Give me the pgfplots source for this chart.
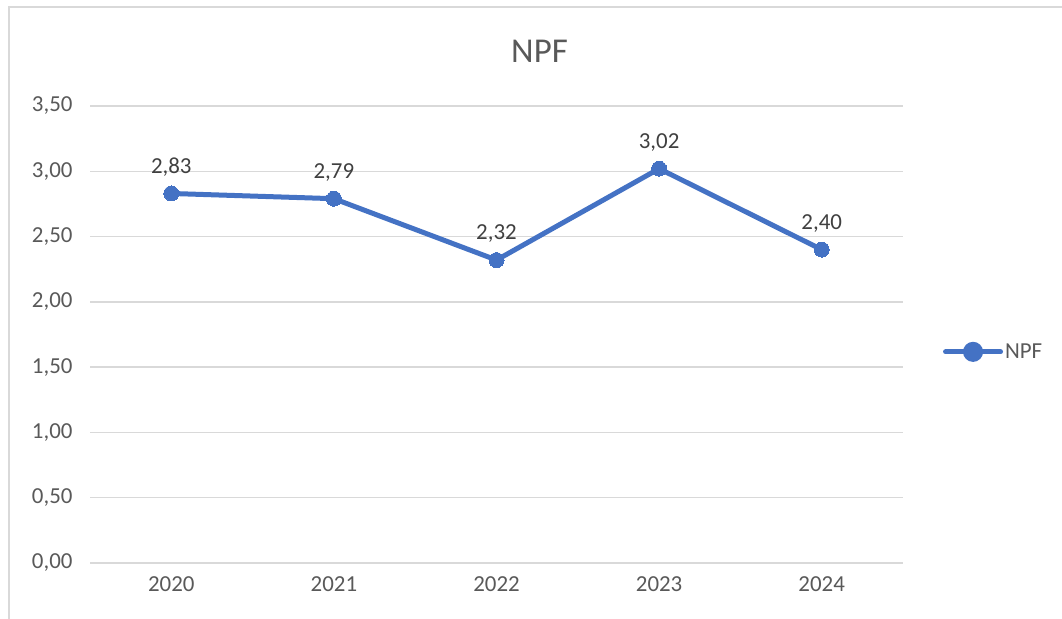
\documentclass[border=0pt]{standalone}
\usepackage{pgfplots}
\pgfplotsset{compat=1.18}
\usepackage{fontspec}
\setmainfont{Carlito}
\definecolor{txt}{HTML}{595959}
\definecolor{lbl}{HTML}{404040}
\definecolor{gridc}{HTML}{D9D9D9}
\definecolor{linec}{HTML}{4472C4}
\begin{document}
\begin{tikzpicture}[x=1bp,y=1bp]
\useasboundingbox (0,0) rectangle (1062,619);
\draw[draw=gridc, line width=1.5bp] (9,0) -- (9,612) -- (1062,612);
\node[text=txt, font=\fontsize{35}{40}\selectfont] at (539.5,568) {NPF};
\begin{axis}[
  at={(90bp,56bp)}, anchor=south west,
  scale only axis, width=813bp, height=457bp,
  xmin=-0.5, xmax=4.5, ymin=0, ymax=3.5,
  xtick={0,1,2,3,4}, xticklabels={2020,2021,2022,2023,2024},
  ytick={0,0.5,1,1.5,2,2.5,3,3.5},
  axis line style={draw=none},
  major tick length=0pt,
  xmajorgrids=false, ymajorgrids=true,
  grid style={draw=gridc, line width=1.5bp},
  tick label style={text=txt, font=\fontsize{23}{27}\selectfont},
  yticklabel style={xshift=-14bp},
  xticklabel style={yshift=-10bp},
  /pgf/number format/.cd, assume math mode=true, fixed, fixed zerofill, precision=2, use comma,
  /pgfplots/.cd,
  legend style={at={(1.049,0.462)}, anchor=west, draw=none, fill=none, inner sep=0pt,
    font=\fontsize{23}{27}\selectfont, text=txt},
  legend image code/.code={
    \draw[line width=5bp, line cap=round] (0bp,0bp) -- (55bp,0bp);
    \fill[linec] (27.5bp,0bp) circle (7.5bp);
  },
  nodes near coords,
  nodes near coords style={text=lbl, font=\fontsize{23}{27}\selectfont, anchor=south, yshift=14bp,
    /pgf/number format/.cd, assume math mode=true, fixed, fixed zerofill, precision=2, use comma},
]
\addplot[draw=linec, line width=5bp, mark=*, mark size=7.5bp, mark options={fill=linec, draw=linec, line width=0pt}]
  coordinates {(0,2.83) (1,2.79) (2,2.32) (3,3.02) (4,2.40)};
\addlegendentry{NPF}
\end{axis}
\end{tikzpicture}
\end{document}
